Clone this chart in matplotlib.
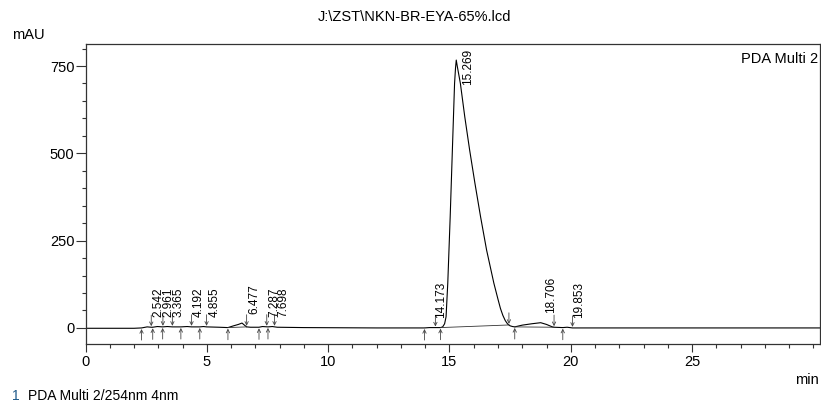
import matplotlib.pyplot as plt
import numpy as np
from matplotlib.ticker import MultipleLocator

plt.rcParams['font.family'] = ['Liberation Sans', 'DejaVu Sans']

# chromatogram trace (min, mAU)
times = [0.0, 2.0, 2.31, 2.54, 2.71, 2.77, 2.96, 3.18, 3.37, 3.58, 3.93, 4.19, 4.37,
         4.71, 4.86, 4.99, 5.5, 5.87, 6.1, 6.3, 6.45, 6.55, 6.64, 6.8, 7.15, 7.29,
         7.52, 7.7, 7.9, 9.0, 12.0, 13.97, 14.17, 14.42, 14.63, 14.72, 14.8, 14.86,
         14.93, 15.03, 15.12, 15.21, 15.25, 15.28, 15.32, 15.45, 15.63, 15.83, 16.05,
         16.28, 16.53, 16.83, 17.0, 17.1, 17.2, 17.3, 17.4, 17.5, 17.6, 17.69, 18.0,
         18.4, 18.76, 19.0, 19.24, 19.31, 19.67, 19.85, 20.07, 22.0, 25.0, 30.25]
signal = [-1, -1, 0, 3, 2, 2, 4, 3, 4, 3, 3, 4, 3,
          3, 4, 3, 2, 1, 6, 10, 14, 8, 3, 2, 2, 4,
          3, 4, 2, 1, 0, 0, 1, 1, 1, 3, 12, 32,
          128, 319, 510, 700, 745, 767, 750, 700, 605, 510, 414,
          319, 223, 128, 82, 56, 36, 21, 11, 6, 4, 3, 8,
          12, 15, 10, 3, 2, 1, 2, 0, 0, 0, 0]

peak_rt = [2.542, 2.961, 3.365, 4.192, 4.855, 6.477, 7.287, 7.698,
           14.173, 15.269, 18.706, 19.853]
peak_start = [2.31, 2.77, 3.18, 3.93, 4.71, 5.87, 7.15, 7.52, 13.97, 14.63, 17.69, 19.67]
peak_end = [2.71, 3.19, 3.58, 4.37, 4.99, 6.64, 7.47, 7.79, 14.42, 17.45, 19.31, 20.07]
x_ticks = [0, 5, 10, 15, 20, 25]

t = np.array(times)
s = np.array(signal)

fig = plt.figure(figsize=(8.21, 4.05), dpi=100)
ax = fig.add_axes([85.5 / 821, 1 - 344 / 405, (819.5 - 85.5) / 821, (344 - 44) / 405])

ax.plot(t, s, color='black', lw=0.8)

# integration baselines under the humps and the main peak
for a, b in [(5.87, 6.64), (14.63, 17.45), (17.69, 19.31)]:
    ax.plot([a, b], np.interp([a, b], t, s), color='#333333', lw=0.6)

arrow = dict(arrowstyle='->', lw=0.6, color='#444444', shrinkA=0, shrinkB=0,
             mutation_scale=6)
for x0 in peak_start:
    y0 = np.interp(x0, t, s)
    ax.annotate('', xy=(x0, y0 - 3), xytext=(0, -8), textcoords='offset points',
                arrowprops=arrow, annotation_clip=False)
for x0 in peak_end:
    y0 = np.interp(x0, t, s)
    ax.annotate('', xy=(x0, y0 + 3), xytext=(0, 8), textcoords='offset points',
                arrowprops=arrow)

for rt in peak_rt:
    h = np.interp(rt, t, s)
    lbl = f'{rt:.3f}'
    if h > 600:
        ax.annotate(lbl, xy=(rt, 800), xytext=(4, 0), textcoords='offset points',
                    rotation=90, ha='left', va='top', fontsize=8.5)
    else:
        ax.annotate(lbl, xy=(rt, h), xytext=(4, 7), textcoords='offset points',
                    rotation=90, ha='left', va='bottom', fontsize=8.5)

ax.set_xlim(0, 30.25)
ax.set_ylim(-46, 813)
ax.set_xticks(x_ticks)
ax.xaxis.set_minor_locator(MultipleLocator(1))
ax.yaxis.set_major_locator(MultipleLocator(250))
ax.yaxis.set_minor_locator(MultipleLocator(50))
ax.tick_params(axis='both', which='major', labelsize=10.5, width=0.8, color='#333333')
ax.tick_params(axis='y', which='major', length=7, pad=1)
ax.tick_params(axis='x', which='major', length=6, pad=2)
ax.tick_params(axis='both', which='minor', length=3, width=0.8, color='#333333')
for sp in ax.spines.values():
    sp.set_linewidth(0.9)
    sp.set_color('#333333')

ax.text(0.998, 0.975, 'PDA Multi 2', transform=ax.transAxes, ha='right', va='top',
        fontsize=10.5)

fig.text(0.505, 1 - 17 / 405, 'J:\\ZST\\NKN-BR-EYA-65%.lcd', ha='center', va='center',
         fontsize=10.5)
fig.text(12 / 821, 1 - 35 / 405, 'mAU', ha='left', va='center', fontsize=10.5)
fig.text(819 / 821, 1 - 380 / 405, 'min', ha='right', va='center', fontsize=10.5)
fig.text(12 / 821, 1 - 396 / 405, '1', ha='left', va='center', fontsize=10,
         color='#1f5a8a')
fig.text(28 / 821, 1 - 396 / 405, 'PDA Multi 2/254nm 4nm', ha='left', va='center',
         fontsize=10)

fig.savefig('out.png', dpi=100)
